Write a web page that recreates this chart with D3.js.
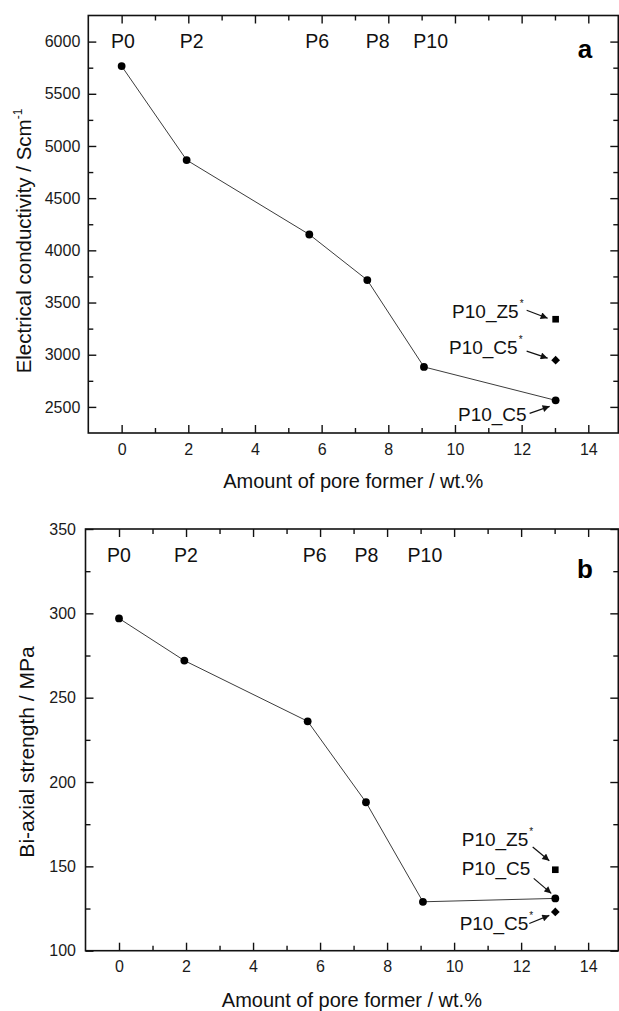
<!DOCTYPE html>
<html>
<head>
<meta charset="utf-8">
<script src="https://cdn.jsdelivr.net/npm/d3@7"></script>
<style>
  body { margin: 0; background: #fff; }
  svg { display: block; font-family: "Liberation Sans", Arial, sans-serif; }
</style>
</head>
<body>
<svg id="chart" width="619" height="1011"></svg>
<script>
  // pore former content (wt.%) of P0, P2, P6, P8, P10 and P10_C5
  var poreFormer = [0, 1.95, 5.63, 7.37, 9.07, 13.02];
  var conductivity = [5765, 4865, 4152, 3715, 2883, 2563];
  var strength = [297, 272, 236, 188, 129, 131];
  var sampleNames = ['P0', 'P2', 'P6', 'P8', 'P10'];

  // extra samples, plotted at the P10_C5 position
  var extraX = 13.02;
  var condZ5star = 3340, condC5star = 2948;
  var strZ5star = 148, strC5star = 123;

  var xTicks = [0, 2, 4, 6, 8, 10, 12, 14];
  var condTicks = [2500, 3000, 3500, 4000, 4500, 5000, 5500, 6000];
  var strTicks = [100, 150, 200, 250, 300, 350];

  var svg = d3.select('#chart');

  svg.append('defs').append('marker')
    .attr('id', 'arrow')
    .attr('markerUnits', 'userSpaceOnUse')
    .attr('viewBox', '0 0 10 10')
    .attr('refX', 10).attr('refY', 5)
    .attr('markerWidth', 8).attr('markerHeight', 7)
    .attr('orient', 'auto')
    .append('path')
    .attr('d', 'M0,0L10,5L0,10z')
    .attr('fill', '#111');

  function styleAxis(sel, size) {
    sel.attr('font-family', null).attr('font-size', null);
    sel.select('.domain').remove();
    sel.selectAll('line').attr('stroke', '#111').attr('stroke-width', 1.4);
    sel.selectAll('text').attr('font-size', size).attr('fill', '#1a1a1a');
  }

  function drawPanel(p) {
    var g = svg.append('g');
    var x = d3.scaleLinear().domain([-1, 14.9]).range([p.left, p.right]);
    var y = d3.scaleLinear().domain(p.yDomain).range([p.bottom, p.top]);

    var minorX = d3.range(1, 15, 2);
    var step = p.yTicks[1] - p.yTicks[0];
    var minorY = p.yTicks.map(function(v) { return v + step / 2; })
      .filter(function(v) { return v < p.yDomain[1]; });
    if (p.yTicks[0] - step / 2 > p.yDomain[0]) minorY.unshift(p.yTicks[0] - step / 2);

    // major axes, ticks pointing inward
    g.append('g').attr('transform', 'translate(0,' + p.bottom + ')')
      .call(d3.axisBottom(x).tickValues(xTicks).tickSize(-8).tickPadding(p.xPad).tickFormat(d3.format('d')))
      .call(styleAxis, 16);
    g.append('g').attr('transform', 'translate(0,' + p.bottom + ')')
      .call(d3.axisBottom(x).tickValues(minorX).tickSize(-5).tickFormat(''))
      .call(styleAxis, 16);
    g.append('g').attr('transform', 'translate(0,' + p.top + ')')
      .call(d3.axisTop(x).tickValues(xTicks).tickSize(-8).tickFormat(''))
      .call(styleAxis, 16);
    g.append('g').attr('transform', 'translate(0,' + p.top + ')')
      .call(d3.axisTop(x).tickValues(minorX).tickSize(-5).tickFormat(''))
      .call(styleAxis, 16);

    g.append('g').attr('transform', 'translate(' + p.left + ',0)')
      .call(d3.axisLeft(y).tickValues(p.yTicks).tickSize(-8).tickPadding(p.yPad).tickFormat(d3.format('d')))
      .call(styleAxis, 16);
    g.append('g').attr('transform', 'translate(' + p.left + ',0)')
      .call(d3.axisLeft(y).tickValues(minorY).tickSize(-5).tickFormat(''))
      .call(styleAxis, 16);
    g.append('g').attr('transform', 'translate(' + p.right + ',0)')
      .call(d3.axisRight(y).tickValues(p.yTicks).tickSize(-8).tickFormat(''))
      .call(styleAxis, 16);
    g.append('g').attr('transform', 'translate(' + p.right + ',0)')
      .call(d3.axisRight(y).tickValues(minorY).tickSize(-5).tickFormat(''))
      .call(styleAxis, 16);

    g.append('rect')
      .attr('x', p.left).attr('y', p.top)
      .attr('width', p.right - p.left).attr('height', p.bottom - p.top)
      .attr('fill', 'none').attr('stroke', '#111').attr('stroke-width', 1.6);

    // series
    var pts = poreFormer.map(function(v, i) { return [v, p.values[i]]; });
    g.append('path').datum(pts)
      .attr('d', d3.line().x(function(d) { return x(d[0]); }).y(function(d) { return y(d[1]); }))
      .attr('fill', 'none').attr('stroke', '#3c3c3c').attr('stroke-width', 1);
    g.selectAll('circle.pt').data(pts).enter().append('circle')
      .attr('class', 'pt')
      .attr('cx', function(d) { return x(d[0]); })
      .attr('cy', function(d) { return y(d[1]); })
      .attr('r', 3.9).attr('fill', '#000');

    g.append('path')
      .attr('d', d3.symbol(d3.symbolSquare, 44)())
      .attr('transform', 'translate(' + x(extraX) + ',' + y(p.z5star) + ')')
      .attr('fill', '#000');
    g.append('path')
      .attr('d', d3.symbol(d3.symbolSquare, 38)())
      .attr('transform', 'translate(' + x(extraX) + ',' + y(p.c5star) + ') rotate(45)')
      .attr('fill', '#000');

    // sample names along the top
    g.selectAll('text.sample').data(sampleNames).enter().append('text')
      .attr('class', 'sample')
      .attr('x', function(d, i) { return x(p.nameX[i]); })
      .attr('y', p.nameY)
      .attr('text-anchor', 'middle')
      .attr('font-size', 19.5)
      .attr('fill', '#111')
      .text(function(d) { return d; });

    g.append('text')
      .attr('x', 585).attr('y', p.letterY)
      .attr('text-anchor', 'middle')
      .attr('font-size', 26).attr('font-weight', 'bold')
      .text(p.letter);

    // annotations for the P10 variants
    var last = pts[pts.length - 1][1];
    p.notes.forEach(function(n) {
      var px = x(extraX);
      var py = y(n.key === 'z5' ? p.z5star : n.key === 'c5s' ? p.c5star : last);
      g.append('text')
        .attr('x', px + n.tx).attr('y', py + n.ty)
        .attr('text-anchor', 'end')
        .attr('font-size', 19).attr('fill', '#111')
        .text(n.text);
      if (n.star) {
        g.append('text')
          .attr('x', px + n.tx + 1).attr('y', py + n.ty - 11)
          .attr('font-size', 10).attr('fill', '#111')
          .text('*');
      }
      g.append('line')
        .attr('x1', px + n.a[0]).attr('y1', py + n.a[1])
        .attr('x2', px + n.a[2]).attr('y2', py + n.a[3])
        .attr('stroke', '#111').attr('stroke-width', 1.2)
        .attr('marker-end', 'url(#arrow)');
    });

    // axis titles
    g.append('text')
      .attr('x', (p.left + p.right) / 2).attr('y', p.xTitleY)
      .attr('text-anchor', 'middle')
      .attr('font-size', 20).attr('fill', '#111')
      .text('Amount of pore former / wt.%');

    var yt = g.append('text')
      .attr('transform', 'translate(' + p.yTitleX + ',' + p.yTitleMid + ') rotate(-90)')
      .attr('text-anchor', 'middle')
      .attr('font-size', p.yTitleSize).attr('fill', '#111');
    yt.append('tspan').text(p.yTitle);
    if (p.yTitleSup) {
      yt.append('tspan').attr('font-size', 12).attr('dy', -9).text(p.yTitleSup);
    }
  }

  drawPanel({
    left: 88.3, right: 618.3, top: 15.5, bottom: 433,
    yDomain: [2250, 6250], yTicks: condTicks,
    values: conductivity, z5star: condZ5star, c5star: condC5star,
    xPad: 11, yPad: 8,
    nameX: [0.04, 2.1, 5.87, 7.68, 9.27], nameY: 47.7,
    letter: 'a', letterY: 58,
    notes: [
      { key: 'z5', text: 'P10_Z5', star: true, tx: -37, ty: -1, a: [-29, -9, -8, -1] },
      { key: 'c5s', text: 'P10_C5', star: true, tx: -38, ty: -6.5, a: [-29, -9, -8, -2] },
      { key: 'c5', text: 'P10_C5', star: false, tx: -29, ty: 21, a: [-26, 13, -6, 6] }
    ],
    xTitleY: 488,
    yTitle: 'Electrical conductivity / Scm', yTitleSup: '-1',
    yTitleX: 31, yTitleMid: 241, yTitleSize: 20.5
  });

  drawPanel({
    left: 85.5, right: 618.3, top: 529, bottom: 950.7,
    yDomain: [100, 350], yTicks: strTicks,
    values: strength, z5star: strZ5star, c5star: strC5star,
    xPad: 10, yPad: 9.5,
    nameX: [0, 2.0, 5.84, 7.38, 9.13], nameY: 561.7,
    letter: 'b', letterY: 578.3,
    notes: [
      { key: 'z5', text: 'P10_Z5', star: true, tx: -27, ty: -23.3, a: [-22.6, -22.7, -6, -9] },
      { key: 'c5', text: 'P10_C5', star: false, tx: -25, ty: -23.3, a: [-21.6, -20, -4, -5] },
      { key: 'c5s', text: 'P10_C5', star: true, tx: -27, ty: 18.3, a: [-26, 11.6, -6, 3.5] }
    ],
    xTitleY: 1006.5,
    yTitle: 'Bi-axial strength / MPa', yTitleSup: null,
    yTitleX: 34, yTitleMid: 752, yTitleSize: 21
  });
</script>
</body>
</html>
